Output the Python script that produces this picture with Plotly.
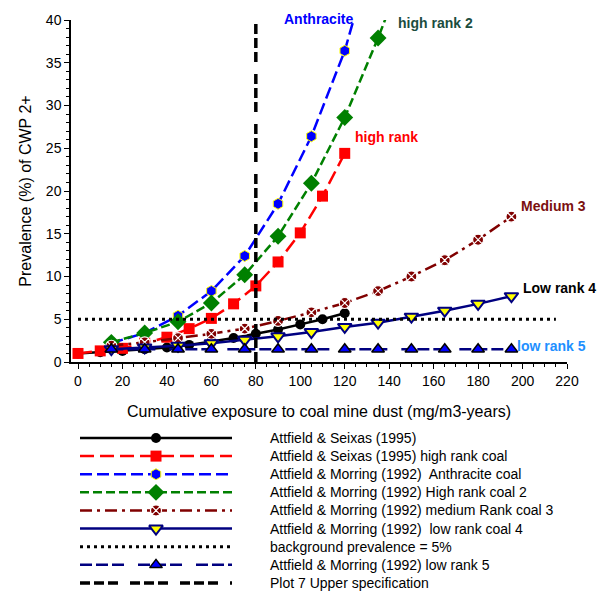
import plotly.graph_objects as go

# ---------------- data ----------------
seixas_x = [0, 10, 20, 30, 40, 50, 60, 70, 80, 90, 100, 110, 120]
seixas_y = [1.0, 1.15, 1.3, 1.5, 1.7, 2.0, 2.4, 2.8, 3.3, 3.8, 4.4, 5.0, 5.7]

highrank_x = [0, 10, 20, 30, 40, 50, 60, 70, 80, 90, 100, 110, 120]
highrank_y = [1.0, 1.3, 1.6, 2.2, 2.9, 3.9, 5.1, 6.8, 8.9, 11.7, 15.1, 19.4, 24.4]

anthracite_x = [15, 30, 45, 60, 75, 90, 105, 120, 135]
anthracite_y = [2.2, 3.4, 5.4, 8.3, 12.4, 18.5, 26.4, 36.4, 50.0]

highrank2_x = [15, 30, 45, 60, 75, 90, 105, 120, 135, 150]
highrank2_y = [2.3, 3.4, 4.7, 6.9, 10.2, 14.7, 20.9, 28.6, 37.9, 48.0]

medium3_x = [15, 30, 45, 60, 75, 90, 105, 120, 135, 150, 165, 180, 195]
medium3_y = [1.9, 2.3, 2.8, 3.3, 3.9, 4.8, 5.8, 6.9, 8.3, 10.0, 11.9, 14.3, 17.0]

lowrank4_x = [15, 30, 45, 60, 75, 90, 105, 120, 135, 150, 165, 180, 195]
lowrank4_y = [1.5, 1.7, 1.9, 2.2, 2.6, 3.0, 3.5, 4.1, 4.6, 5.3, 6.0, 6.8, 7.7]

background_x = [0, 215]
background_y = [5, 5]

lowrank5_x = [15, 30, 45, 60, 75, 90, 105, 120, 135, 150, 165, 180, 195]
lowrank5_y = [1.5, 1.5, 1.5, 1.5, 1.5, 1.5, 1.5, 1.5, 1.5, 1.5, 1.5, 1.5, 1.5]

spec_x = [80, 80]
spec_y = [0, 40]

legend_names = [
    "Attfield & Seixas (1995)",
    "Attfield & Seixas (1995) high rank coal",
    "Attfield & Morring (1992)  Anthracite coal",
    "Attfield & Morring (1992) High rank coal 2",
    "Attfield & Morring (1992) medium Rank coal 3",
    "Attfield & Morring (1992)  low rank coal 4",
    "background prevalence = 5%",
    "Attfield & Morring (1992) low rank 5",
    "Plot 7 Upper specification",
]

labels = [
    ("Anthracite", 108, 39.95, "#0000ff", 1),
    ("high rank 2", 161, 39.6, "#1b4d3e", 0),
    ("high rank", 138.6, 26.3, "#ff0000", 0),
    ("Medium 3", 213.7, 18.2, "#7b1010", 0),
    ("Low rank 4", 216.6, 8.65, "#000000", 0),
    ("low rank 5", 213, 1.87, "#1e90ff", 0),
]

# ---------------- styles ----------------
styles = [
    dict(color="#000000", dash="solid", width=2.5,
         marker=dict(symbol="circle", size=10, color="#000000", line=dict(width=0))),
    dict(color="#ff0000", dash="14px,6px", width=2.5,
         marker=dict(symbol="square", size=11, color="#ff0000", line=dict(width=0))),
    dict(color="#0000ff", dash="12px,5px", width=2.5,
         marker=dict(symbol="hexagon", size=11, color="#0000ff", line=dict(width=1, color="#ffff00"))),
    dict(color="#008000", dash="9px,4px", width=2.5,
         marker=dict(symbol="diamond", size=13, color="#008000", line=dict(width=0))),
    dict(color="#800000", dash="12px,5px,3px,5px", width=2.5,
         marker=dict(symbol="circle-x", size=11, color="#800000", line=dict(width=1.2, color="#ffffff"))),
    dict(color="#000080", dash="solid", width=2.5,
         marker=dict(symbol="triangle-down", size=12, color="#ffff00", line=dict(width=2, color="#000080"))),
    dict(color="#000000", dash="3px,4px", width=3,
         marker=None),
    dict(color="#000080", dash="12px,4px,12px,4px,12px,14px", width=2.5,
         marker=dict(symbol="triangle-up", size=11, color="#0000ff", line=dict(width=1.5, color="#000000"))),
    dict(color="#000000", dash="10px,4px,10px,4px,10px,12px", width=3.5,
         marker=None),
]

series = [
    (seixas_x, seixas_y),
    (highrank_x, highrank_y),
    (anthracite_x, anthracite_y),
    (highrank2_x, highrank2_y),
    (medium3_x, medium3_y),
    (lowrank4_x, lowrank4_y),
    (background_x, background_y),
    (lowrank5_x, lowrank5_y),
    (spec_x, spec_y),
]

fig = go.Figure()

for (xs, ys), st, name in zip(series, styles, legend_names):
    mode = "lines+markers" if st["marker"] else "lines"
    kw = dict(x=xs, y=ys, mode=mode, name=name, showlegend=False,
              line=dict(color=st["color"], dash=st["dash"], width=st["width"]),
              xaxis="x", yaxis="y")
    if st["marker"]:
        kw["marker"] = st["marker"]
    fig.add_trace(go.Scatter(**kw))

# ---------------- custom legend (subplot 2) ----------------
for i, (st, name) in enumerate(zip(styles, legend_names)):
    fig.add_trace(go.Scatter(x=[0, 1], y=[-i, -i], mode="lines", showlegend=False,
                             line=dict(color=st["color"], dash=st["dash"], width=st["width"]),
                             xaxis="x2", yaxis="y2", hoverinfo="skip"))
    if st["marker"]:
        fig.add_trace(go.Scatter(x=[0.5], y=[-i], mode="markers", showlegend=False,
                                 marker=st["marker"], xaxis="x2", yaxis="y2", hoverinfo="skip"))
    fig.add_annotation(x=0.397, y=-i, xref="paper", yref="y2", text=name,
                       showarrow=False, xanchor="left", yanchor="middle",
                       font=dict(size=14, color="#000000"))

for text, lx, ly, col, ys in labels:
    fig.add_annotation(x=lx, y=ly, xref="x", yref="y", text="<b>%s</b>" % text,
                       showarrow=False, xanchor="center", yanchor="middle", yshift=ys,
                       font=dict(size=14, color=col))

fig.update_layout(
    width=607, height=592,
    margin=dict(l=71, r=40, t=20, b=0, autoexpand=False),
    paper_bgcolor="white", plot_bgcolor="white",
    font=dict(family="Liberation Sans, Arial, sans-serif", color="#000000"),
    xaxis=dict(range=[-3.15, 220], domain=[0, 1], anchor="y", automargin=False,
               tickmode="array", tickvals=list(range(0, 221, 20)),
               ticks="outside", ticklen=5, tickwidth=1, tickcolor="#000000",
               minor=dict(dtick=5, tick0=0, ticks="outside", ticklen=3, tickcolor="#000000"),
               showline=True, linecolor="#000000", linewidth=1.5,
               showgrid=False, zeroline=False,
               tickfont=dict(size=14),
               title=dict(text="Cumulative exposure to coal mine dust (mg/m3-years)",
                          font=dict(size=16), standoff=18)),
    yaxis=dict(range=[0, 40], domain=[0.4021, 1], anchor="x", automargin=False,
               tickmode="array", tickvals=list(range(0, 41, 5)),
               ticks="outside", ticklen=5, tickwidth=1, tickcolor="#000000",
               minor=dict(dtick=1, tick0=0, ticks="outside", ticklen=3, tickcolor="#000000"),
               showline=True, linecolor="#000000", linewidth=1.5,
               showgrid=False, zeroline=False,
               tickfont=dict(size=14),
               title=dict(text="Prevalence (%) of CWP 2+", font=dict(size=16), standoff=10)),
    xaxis2=dict(range=[0, 1], domain=[0.01815, 0.3246], anchor="y2",
                visible=False, fixedrange=True),
    yaxis2=dict(range=[-8.497, 0.386], domain=[0, 0.2815], anchor="x2",
                visible=False, fixedrange=True),
)

fig.write_html("out.html",
               config={"displayModeBar": False},
               post_script="document.body.style.margin='0';document.body.style.overflow='hidden';")
